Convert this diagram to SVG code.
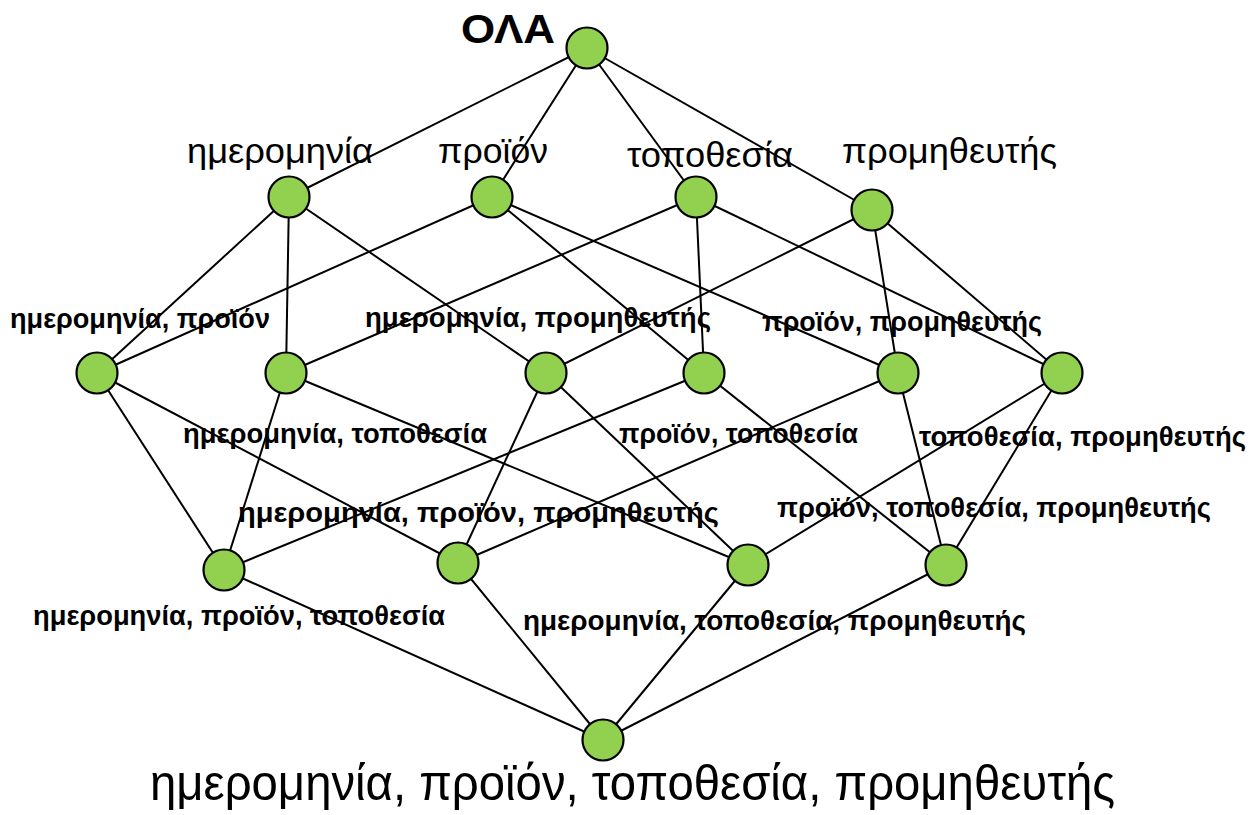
<svg xmlns="http://www.w3.org/2000/svg" width="1251" height="815" viewBox="0 0 1251 815">
  <style>
    .edge { stroke: #000; stroke-width: 2; }
    .node { fill: #92D050; stroke: #000; stroke-width: 2.2; }
    .big { font-family: "Liberation Sans", "DejaVu Sans", sans-serif; font-size: 35px; fill: #000; }
    .lbl { font-family: "Liberation Sans", "DejaVu Sans", sans-serif; font-size: 27px; font-weight: bold; fill: #000; }
    .top { font-family: "Liberation Sans", "DejaVu Sans", sans-serif; font-size: 40px; font-weight: bold; fill: #000; }
    .bottom { font-family: "Liberation Sans", "DejaVu Sans", sans-serif; font-size: 50px; fill: #000; }
  </style>
  <rect width="1251" height="815" fill="#fff"/>

  <!-- lattice links -->
  <g id="connectors">
    <!-- apex to single dimensions -->
    <line class="edge" x1="587" y1="48" x2="289" y2="197"/>
    <line class="edge" x1="587" y1="48" x2="492" y2="197"/>
    <line class="edge" x1="587" y1="48" x2="696" y2="197"/>
    <line class="edge" x1="587" y1="48" x2="872" y2="210"/>
    <!-- single dimensions to pairs -->
    <line class="edge" x1="289" y1="197" x2="97" y2="373"/>
    <line class="edge" x1="289" y1="197" x2="286" y2="373"/>
    <line class="edge" x1="289" y1="197" x2="546" y2="373"/>
    <line class="edge" x1="492" y1="197" x2="97" y2="373"/>
    <line class="edge" x1="492" y1="197" x2="704" y2="373"/>
    <line class="edge" x1="492" y1="197" x2="898" y2="373"/>
    <line class="edge" x1="696" y1="197" x2="286" y2="373"/>
    <line class="edge" x1="696" y1="197" x2="704" y2="373"/>
    <line class="edge" x1="696" y1="197" x2="1062" y2="373"/>
    <line class="edge" x1="872" y1="210" x2="546" y2="373"/>
    <line class="edge" x1="872" y1="210" x2="898" y2="373"/>
    <line class="edge" x1="872" y1="210" x2="1062" y2="373"/>
    <!-- pairs to triples -->
    <line class="edge" x1="97" y1="373" x2="224" y2="570"/>
    <line class="edge" x1="97" y1="373" x2="458" y2="563"/>
    <line class="edge" x1="286" y1="373" x2="224" y2="570"/>
    <line class="edge" x1="286" y1="373" x2="748" y2="565"/>
    <line class="edge" x1="546" y1="373" x2="458" y2="563"/>
    <line class="edge" x1="546" y1="373" x2="748" y2="565"/>
    <line class="edge" x1="704" y1="373" x2="224" y2="570"/>
    <line class="edge" x1="704" y1="373" x2="946" y2="565"/>
    <line class="edge" x1="898" y1="373" x2="458" y2="563"/>
    <line class="edge" x1="898" y1="373" x2="946" y2="565"/>
    <line class="edge" x1="1062" y1="373" x2="748" y2="565"/>
    <line class="edge" x1="1062" y1="373" x2="946" y2="565"/>
    <!-- triples to base -->
    <line class="edge" x1="224" y1="570" x2="603" y2="740"/>
    <line class="edge" x1="458" y1="563" x2="603" y2="740"/>
    <line class="edge" x1="748" y1="565" x2="603" y2="740"/>
    <line class="edge" x1="946" y1="565" x2="603" y2="740"/>
  </g>

  <g id="node-all">
    <circle class="node" cx="587" cy="48" r="20.5"/>
    <text class="top" x="461" y="43" textLength="94" lengthAdjust="spacingAndGlyphs">ΟΛΑ</text>
  </g>

  <g id="node-date">
    <circle class="node" cx="289" cy="197" r="20.5"/>
    <text class="big" x="187" y="163" textLength="186" lengthAdjust="spacingAndGlyphs">ημερομηνία</text>
  </g>
  <g id="node-product">
    <circle class="node" cx="492" cy="197" r="20.5"/>
    <text class="big" x="438" y="163" textLength="110" lengthAdjust="spacingAndGlyphs">προϊόν</text>
  </g>
  <g id="node-location">
    <circle class="node" cx="696" cy="197" r="20.5"/>
    <text class="big" x="627" y="167" textLength="166" lengthAdjust="spacingAndGlyphs">τοποθεσία</text>
  </g>
  <g id="node-supplier">
    <circle class="node" cx="872" cy="210" r="20.5"/>
    <text class="big" x="842" y="163" textLength="215" lengthAdjust="spacingAndGlyphs">προμηθευτής</text>
  </g>

  <g id="node-date-product">
    <circle class="node" cx="97" cy="373" r="20.5"/>
    <text class="lbl" x="10" y="328" textLength="260" lengthAdjust="spacingAndGlyphs">ημερομηνία, προϊόν</text>
  </g>
  <g id="node-date-location">
    <circle class="node" cx="286" cy="373" r="20.5"/>
    <text class="lbl" x="183" y="443" textLength="304" lengthAdjust="spacingAndGlyphs">ημερομηνία, τοποθεσία</text>
  </g>
  <g id="node-date-supplier">
    <circle class="node" cx="546" cy="373" r="20.5"/>
    <text class="lbl" x="365" y="327" textLength="346" lengthAdjust="spacingAndGlyphs">ημερομηνία, προμηθευτής</text>
  </g>
  <g id="node-product-location">
    <circle class="node" cx="704" cy="373" r="20.5"/>
    <text class="lbl" x="619" y="443" textLength="239" lengthAdjust="spacingAndGlyphs">προϊόν, τοποθεσία</text>
  </g>
  <g id="node-product-supplier">
    <circle class="node" cx="898" cy="373" r="20.5"/>
    <text class="lbl" x="762" y="331" textLength="280" lengthAdjust="spacingAndGlyphs">προϊόν, προμηθευτής</text>
  </g>
  <g id="node-location-supplier">
    <circle class="node" cx="1062" cy="373" r="20.5"/>
    <text class="lbl" x="919" y="446" textLength="327" lengthAdjust="spacingAndGlyphs">τοποθεσία, προμηθευτής</text>
  </g>

  <g id="node-date-product-location">
    <circle class="node" cx="224" cy="570" r="20.5"/>
    <text class="lbl" x="33" y="625" textLength="412" lengthAdjust="spacingAndGlyphs">ημερομηνία, προϊόν, τοποθεσία</text>
  </g>
  <g id="node-date-product-supplier">
    <circle class="node" cx="458" cy="563" r="20.5"/>
    <text class="lbl" x="238" y="522" textLength="481" lengthAdjust="spacingAndGlyphs">ημερομηνία, προϊόν, προμηθευτής</text>
  </g>
  <g id="node-date-location-supplier">
    <circle class="node" cx="748" cy="565" r="20.5"/>
    <text class="lbl" x="523" y="630" textLength="503" lengthAdjust="spacingAndGlyphs">ημερομηνία, τοποθεσία, προμηθευτής</text>
  </g>
  <g id="node-product-location-supplier">
    <circle class="node" cx="946" cy="565" r="20.5"/>
    <text class="lbl" x="777" y="517" textLength="434" lengthAdjust="spacingAndGlyphs">προϊόν, τοποθεσία, προμηθευτής</text>
  </g>

  <g id="node-base">
    <circle class="node" cx="603" cy="740" r="20.5"/>
    <text class="bottom" x="150" y="800" textLength="965" lengthAdjust="spacingAndGlyphs">ημερομηνία, προϊόν, τοποθεσία, προμηθευτής</text>
  </g>
</svg>
